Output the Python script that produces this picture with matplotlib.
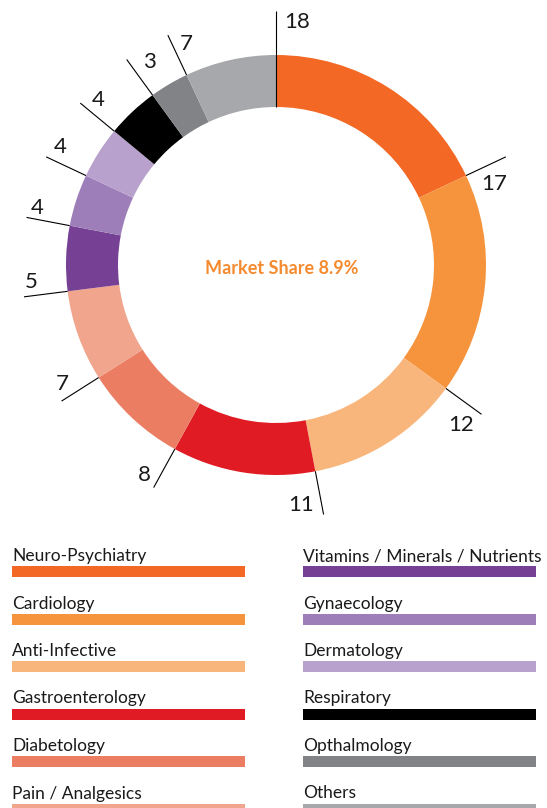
import matplotlib
matplotlib.use("Agg")
import matplotlib.pyplot as plt
import numpy as np

categories = ["Neuro-Psychiatry", "Cardiology", "Anti-Infective", "Gastroenterology",
              "Diabetology", "Pain / Analgesics", "Vitamins / Minerals / Nutrients",
              "Gynaecology", "Dermatology", "Respiratory", "Opthalmology", "Others"]
values = [18, 17, 12, 11, 8, 7, 5, 4, 4, 4, 3, 7]
colors = ["#F26824", "#F5943D", "#F9B67C", "#E01B24", "#EB7D63", "#F0A58C",
          "#764194", "#9E7EB8", "#B9A1CE", "#000000", "#828386", "#A7A8AB"]
center_label = "Market Share 8.9%"

# offsets (px, y down) of each value label from the end of its leader line
label_offsets = [(21, 11), (-12, 27), (-20, 11), (-23, -10), (-9, -13), (1, -17),
                 (7, -15), (11, -9), (14, -10), (18, -3), (23, 2), (18, 9)]

W, H = 547, 808
FONT = "Lato"
fig = plt.figure(figsize=(W / 100, H / 100), dpi=100)
ax = fig.add_axes([0, 0, 1, 1])

cx, cy = 276, H - 265
R, ring = 210, 52
ax.pie(values, colors=colors, radius=R, center=(cx, cy), startangle=90,
       counterclock=False, wedgeprops=dict(width=ring, linewidth=0),
       frame=False)
ax.set_xlim(0, W)
ax.set_ylim(0, H)
ax.set_aspect("equal")
ax.axis("off")

total = sum(values)
starts = np.cumsum(values) - np.array(values)
L = 44
for i, (v, s) in enumerate(zip(values, starts)):
    theta = np.deg2rad(360.0 * s / total)
    r0 = R - ring if i == 0 else R
    x0, y0 = cx + r0 * np.sin(theta), cy + r0 * np.cos(theta)
    x1, y1 = cx + (R + L) * np.sin(theta), cy + (R + L) * np.cos(theta)
    ax.plot([x0, x1], [y0, y1], color="black", lw=0.8, solid_capstyle="butt")
    dx, dy = label_offsets[i]
    ax.text(x1 + dx, y1 - dy, str(v), ha="center", va="center",
            fontsize=16, family=FONT, color="#1a1a1a")

ax.text(282, H - 268, center_label, ha="center", va="center", fontsize=13,
        fontweight="bold", family=FONT, color="#F58A2E")

# legend
col_x = [12, 303]
bar_w = 233
row_top = [566, 613.5, 661, 708.5, 756, 803.5]
for i, (cat, col) in enumerate(zip(categories, colors)):
    c, r = divmod(i, 6)
    x = col_x[c]
    top = row_top[r]
    ax.add_patch(plt.Rectangle((x, H - top - 11), bar_w, 11, color=col, lw=0))
    ax.text(x, H - top + 5, cat, ha="left", va="baseline", fontsize=12.5,
            family=FONT, color="#1a1a1a")

fig.savefig("out.png", dpi=100)
